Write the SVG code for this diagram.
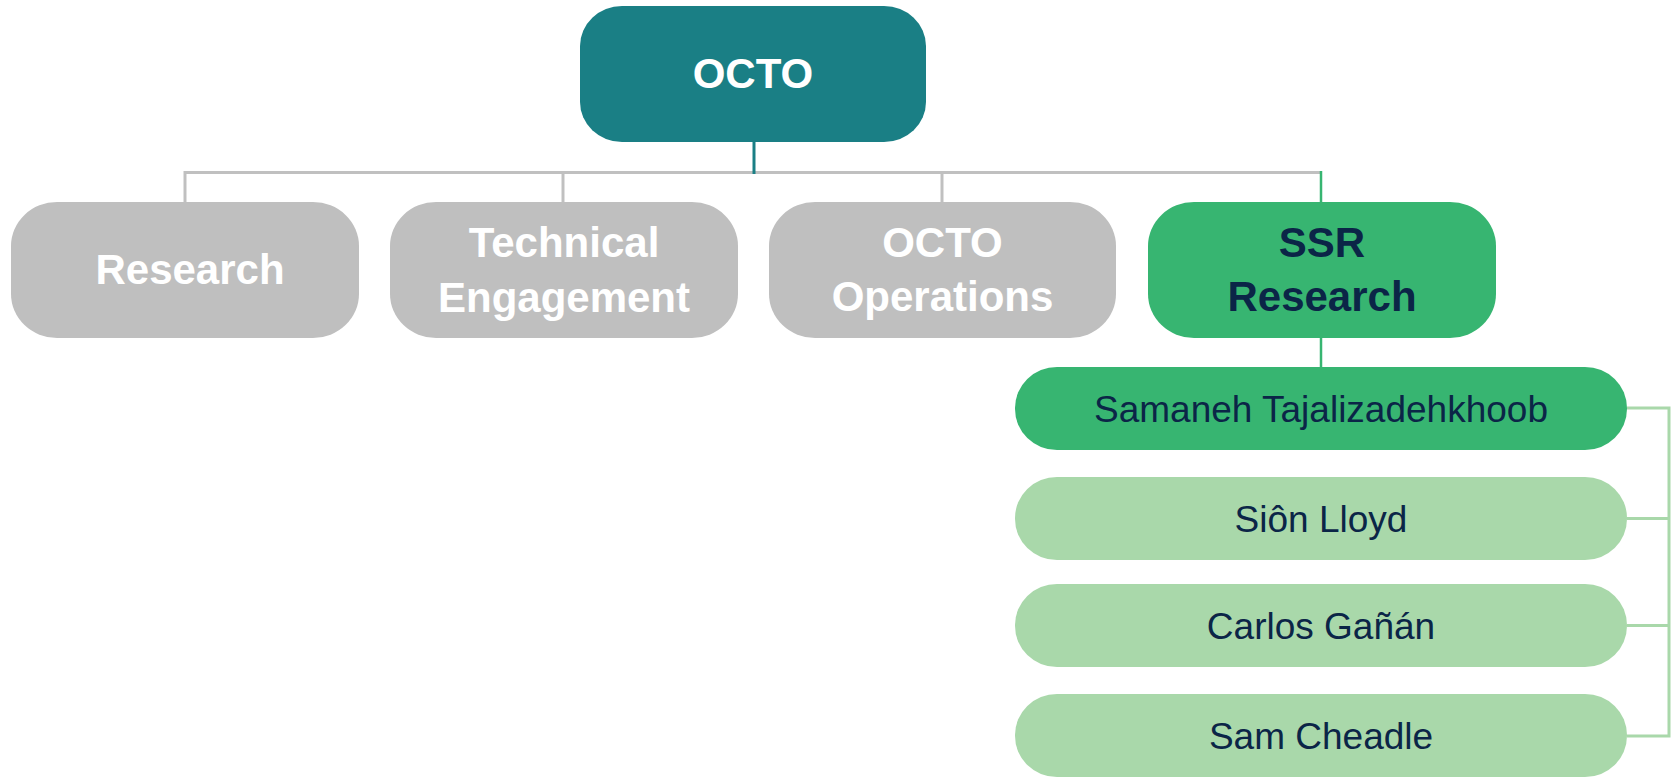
<svg xmlns="http://www.w3.org/2000/svg" width="1675" height="779" viewBox="0 0 1675 779">
<style>
  .t{font-family:"Liberation Sans",Arial,sans-serif;text-anchor:middle}
  .b{font-weight:bold;font-size:42px}
  .w{fill:#ffffff}
  .n{fill:#0b2547}
  .nm{font-size:37px}
  .gray{fill:#bfbfbf}
  .ssr{fill:#37b571}
  .lt{fill:#a9d8aa}
  .cg{stroke:#c0c0c0;stroke-width:3;fill:none}
  .cgr{stroke:#37b571;stroke-width:2.5;fill:none}
  .clt{stroke:#a9d8aa;stroke-width:3;fill:none}
</style>
<rect width="1675" height="779" fill="#ffffff"/>
<g id="connectors">
  <line class="cg" x1="185" y1="172.5" x2="1321" y2="172.5"/>
  <line class="cg" x1="185" y1="171" x2="185" y2="202"/>
  <line class="cg" x1="563" y1="172" x2="563" y2="202"/>
  <line class="cg" x1="942" y1="172" x2="942" y2="202"/>
  <line x1="754" y1="142" x2="754" y2="174" stroke="#1a7f85" stroke-width="3"/>
  <line class="cgr" x1="1321" y1="171" x2="1321" y2="202"/>
  <line class="cgr" x1="1321" y1="338" x2="1321" y2="367"/>
  <path class="clt" d="M1627 408 H1669 V736 H1627 M1627 518.5 H1669 M1627 625.5 H1669"/>
</g>
<g id="octo">
  <rect x="580" y="6" width="346" height="136" rx="42" ry="40" fill="#1a7f85"/>
  <text class="t b w" x="753" y="88">OCTO</text>
</g>
<g id="research">
  <rect class="gray" x="11" y="202" width="348" height="136" rx="46" ry="44"/>
  <text class="t b w" x="190" y="284">Research</text>
</g>
<g id="technical-engagement">
  <rect class="gray" x="390" y="202" width="348" height="136" rx="46" ry="44"/>
  <text class="t b w" x="564" y="257">Technical</text>
  <text class="t b w" x="564" y="312">Engagement</text>
</g>
<g id="octo-operations">
  <rect class="gray" x="769" y="202" width="347" height="136" rx="46" ry="44"/>
  <text class="t b w" x="942.5" y="257">OCTO</text>
  <text class="t b w" x="942.5" y="311">Operations</text>
</g>
<g id="ssr-research">
  <rect class="ssr" x="1148" y="202" width="348" height="136" rx="46" ry="44"/>
  <text class="t b n" x="1322" y="257">SSR</text>
  <text class="t b n" x="1322" y="311">Research</text>
</g>
<g id="samaneh">
  <rect class="ssr" x="1015" y="367" width="612" height="83" rx="42" ry="41"/>
  <text class="t nm n" x="1321" y="422">Samaneh Tajalizadehkhoob</text>
</g>
<g id="sion">
  <rect class="lt" x="1015" y="477" width="612" height="83" rx="42" ry="41"/>
  <text class="t nm n" x="1321" y="532">Siôn Lloyd</text>
</g>
<g id="carlos">
  <rect class="lt" x="1015" y="584" width="612" height="83" rx="42" ry="41"/>
  <text class="t nm n" x="1321" y="639">Carlos Gañán</text>
</g>
<g id="sam">
  <rect class="lt" x="1015" y="694" width="612" height="83" rx="42" ry="41"/>
  <text class="t nm n" x="1321" y="749">Sam Cheadle</text>
</g>
</svg>
